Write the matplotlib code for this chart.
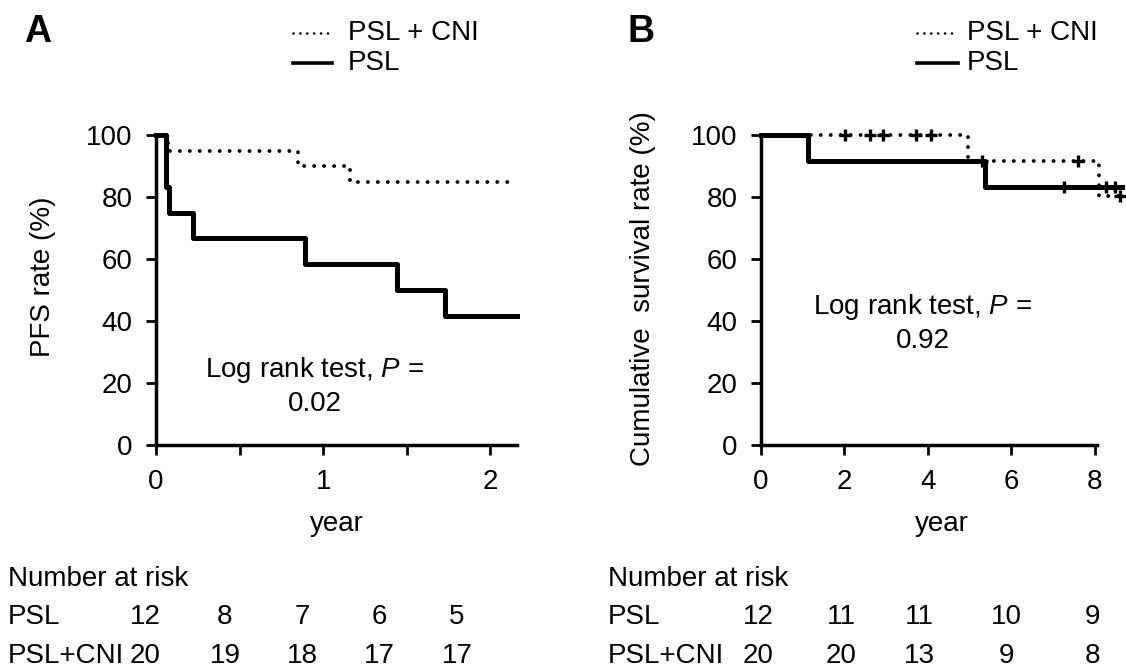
import numpy as np
import matplotlib
matplotlib.use('Agg')
import matplotlib.pyplot as plt
from matplotlib.lines import Line2D

plt.rcParams['font.family'] = ['Liberation Sans', 'DejaVu Sans']
plt.rcParams['mathtext.fontset'] = 'custom'
plt.rcParams['mathtext.rm'] = 'Liberation Sans'
plt.rcParams['mathtext.it'] = 'Liberation Sans:italic'

W, H = 1126, 671
FS = 20

# panel A: progression-free survival (years, %)
psl_a_t = [0, 0.06, 0.08, 0.22, 0.89, 1.44, 1.73, 2.16]
psl_a_s = [100, 83.3, 75.0, 66.7, 58.3, 50.0, 41.7, 41.7]
cni_a_t = [0, 0.07, 0.85, 1.16, 2.12]
cni_a_s = [100, 95.0, 90.0, 85.0, 85.0]

# panel B: cumulative survival (years, %)
psl_b_t = [0, 1.12, 5.36, 8.65]
psl_b_s = [100, 91.7, 83.3, 83.3]
psl_b_censor = [7.26, 8.26, 8.48]
cni_b_t = [0, 4.96, 8.10, 8.62]
cni_b_s = [100, 91.7, 80.2, 80.2]
cni_b_censor = [2.02, 2.60, 2.92, 3.72, 4.08, 5.30, 7.60, 8.60]

# number at risk
risk_groups = ['PSL', 'PSL+CNI']
risk_a_psl = [12, 8, 7, 6, 5]
risk_a_cni = [20, 19, 18, 17, 17]
risk_b_psl = [12, 11, 11, 10, 9]
risk_b_cni = [20, 20, 13, 9, 8]

legend_labels = ['PSL + CNI', 'PSL']
p_text_a = 'Log rank test, $P$ =\n0.02'
p_text_b = 'Log rank test, $P$ =\n0.92'


def fx(px):
    return px / W


def fy(py):
    return 1 - py / H


def step_value(t, s, x):
    idx = np.searchsorted(t, x, side='right') - 1
    return np.asarray(s)[idx]


dot_style = dict(color='black', lw=2.8, linestyle=(0, (0.01, 2.55)),
                 dash_capstyle='round', clip_on=False)
solid_style = dict(color='black', lw=3.6, clip_on=False)
censor_style = dict(marker='+', ms=9, mew=2.4, color='black', ls='none', clip_on=False)


def style_axes(ax, xmax, xticks, minor, spine_end):
    ax.set_xlim(0, xmax)
    ax.set_ylim(0, 100)
    for side in ['top', 'right']:
        ax.spines[side].set_visible(False)
    for side in ['left', 'bottom']:
        ax.spines[side].set_linewidth(2.5)
    ax.spines['bottom'].set_bounds(0, spine_end)
    ax.set_yticks([0, 20, 40, 60, 80, 100])
    ax.set_xticks(xticks)
    ax.set_xticks(minor, minor=True)
    ax.tick_params(axis='both', which='both', direction='out', length=7,
                   width=2, labelsize=FS)
    ax.tick_params(axis='y', pad=10)
    ax.tick_params(axis='x', pad=10)
    ax.set_xlabel('year', fontsize=FS, labelpad=12)
    ax.patch.set_visible(False)


fig = plt.figure(figsize=(W / 100, H / 100), dpi=100)

# ---- panel A
axA = fig.add_axes([fx(156), fy(445), (517 - 156) / W, 310 / H])
axA.step(cni_a_t, cni_a_s, where='post', **dot_style)
axA.step(psl_a_t, psl_a_s, where='post', **solid_style)
style_axes(axA, 2.16, [0, 1, 2], [0.5, 1.5], 2.16)
axA.text(0.95, 19.0, p_text_a, fontsize=FS, ha='center', va='center',
         multialignment='center', linespacing=1.3)
fig.text(fx(43), fy(277), 'PFS rate (%)', rotation=90, fontsize=FS,
         ha='center', va='center')

# ---- panel B
axB = fig.add_axes([fx(761), fy(445), (1122 - 761) / W, 310 / H])
axB.step(cni_b_t, cni_b_s, where='post', **dot_style)
axB.plot(cni_b_censor, step_value(cni_b_t, cni_b_s, cni_b_censor), **censor_style)
axB.step(psl_b_t, psl_b_s, where='post', **solid_style)
axB.plot(psl_b_censor, step_value(psl_b_t, psl_b_s, psl_b_censor), **censor_style)
style_axes(axB, 8.65, [0, 2, 4, 6, 8], [], 8.04)
axB.text(3.88, 39.5, p_text_b, fontsize=FS, ha='center', va='center',
         multialignment='center', linespacing=1.3)
fig.text(fx(643), fy(289), 'Cumulative  survival rate (%)', rotation=90,
         fontsize=FS, ha='center', va='center')

# ---- panel letters and legends
for letter, lx, (l0, l1, tx) in [('A', 24, (293, 332, 348)), ('B', 628, (917, 958, 967))]:
    fig.text(fx(lx), fy(32), letter, fontsize=27, fontweight='bold',
             ha='left', va='center')
    fig.add_artist(Line2D([fx(l0), fx(l1)], [fy(33), fy(33)], color='black', lw=1.9,
                          linestyle=(0, (0.01, 2.6)), dash_capstyle='round'))
    fig.add_artist(Line2D([fx(l0), fx(l1)], [fy(63), fy(63)], color='black', lw=2.6))
    fig.text(fx(tx), fy(33), legend_labels[0], fontsize=FS, ha='left', va='center')
    fig.text(fx(tx), fy(63), legend_labels[1], fontsize=FS, ha='left', va='center')

# ---- number at risk tables
tables = [
    (8, [145, 225, 302, 379, 457], risk_a_psl, risk_a_cni),
    (608, [758, 841, 919, 1006, 1092], risk_b_psl, risk_b_cni),
]
for x0, cols, row_psl, row_cni in tables:
    fig.text(fx(x0), fy(586), 'Number at risk', fontsize=FS, ha='left', va='baseline')
    for ry, name, row in [(624, risk_groups[0], row_psl), (663, risk_groups[1], row_cni)]:
        fig.text(fx(x0), fy(ry), name, fontsize=FS, ha='left', va='baseline')
        for cx, n in zip(cols, row):
            fig.text(fx(cx), fy(ry), str(n), fontsize=FS, ha='center', va='baseline')

fig.savefig('out.png', dpi=100)
